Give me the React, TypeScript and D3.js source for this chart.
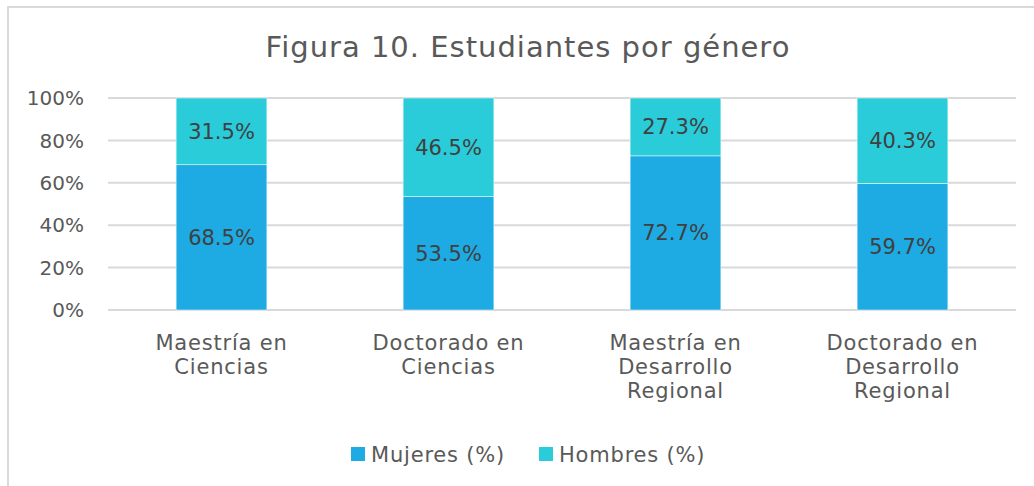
import React, { useEffect, useRef } from 'react';
import * as d3 from 'd3';

const categories = [
  ['Maestría en', 'Ciencias'],
  ['Doctorado en', 'Ciencias'],
  ['Maestría en', 'Desarrollo', 'Regional'],
  ['Doctorado en', 'Desarrollo', 'Regional'],
];
const mujeres = [68.5, 53.5, 72.7, 59.7];
const hombres = [31.5, 46.5, 27.3, 40.3];
const seriesNames = ['Mujeres (%)', 'Hombres (%)'];
const seriesColors = ['#1eaae2', '#29ccd8'];
const yTicks = [0, 20, 40, 60, 80, 100];

const FONT = '"DejaVu Sans", sans-serif';
const TEXT = '#595959';

const App = () => {
  const svgRef = useRef<SVGSVGElement>(null);

  useEffect(() => {
    const W = 1034, H = 486;
    const margin = { top: 98, right: 18, bottom: 176, left: 108 };
    const width = W - margin.left - margin.right;
    const height = H - margin.top - margin.bottom;

    const root = d3.select(svgRef.current);
    root.selectAll('*').remove();
    root.attr('width', W).attr('height', H);

    root.append('rect')
      .attr('x', 0).attr('y', 0).attr('width', W).attr('height', H)
      .attr('fill', '#fff');
    root.append('rect')
      .attr('x', 8).attr('y', 7).attr('width', W + 20).attr('height', H + 20)
      .attr('fill', 'none').attr('stroke', '#d9d9d9').attr('stroke-width', 2);

    root.append('text')
      .attr('x', 528).attr('y', 57)
      .attr('text-anchor', 'middle')
      .style('font-family', FONT).style('font-size', '29px')
      .style('letter-spacing', '1px')
      .attr('fill', TEXT)
      .text('Figura 10. Estudiantes por género');

    const svg = root.append('g').attr('transform', `translate(${margin.left},${margin.top})`);

    const idx = categories.map((_, i) => i);
    const x = d3.scaleBand<number>().domain(idx).range([0, width]).paddingInner(0.6).paddingOuter(0.3);
    const y = d3.scaleLinear().domain([0, 100]).range([height, 0]);

    svg.selectAll('.grid')
      .data(yTicks)
      .enter().append('line')
      .attr('x1', 0).attr('x2', width)
      .attr('y1', d => y(d)).attr('y2', d => y(d))
      .attr('stroke', '#d9d9d9').attr('stroke-width', 2);

    svg.selectAll('.ytick')
      .data(yTicks)
      .enter().append('text')
      .attr('x', -24).attr('y', d => y(d))
      .attr('dy', '0.36em')
      .attr('text-anchor', 'end')
      .style('font-family', FONT).style('font-size', '20px')
      .attr('fill', TEXT)
      .text(d => `${d}%`);

    const stacked = idx.map(i => [
      { s: 0, y0: 0, y1: mujeres[i], v: mujeres[i] },
      { s: 1, y0: mujeres[i], y1: mujeres[i] + hombres[i], v: hombres[i] },
    ]);

    const groups = svg.selectAll('.bar')
      .data(stacked)
      .enter().append('g')
      .attr('transform', (_, i) => `translate(${x(i)},0)`);

    groups.selectAll('rect')
      .data(d => d)
      .enter().append('rect')
      .attr('x', 0)
      .attr('width', x.bandwidth())
      .attr('y', d => y(d.y1))
      .attr('height', d => y(d.y0) - y(d.y1))
      .attr('fill', d => seriesColors[d.s])
      .attr('stroke', '#fff').attr('stroke-width', 0.5);

    groups.selectAll('text')
      .data(d => d)
      .enter().append('text')
      .attr('x', x.bandwidth() / 2)
      .attr('y', d => y((d.y0 + d.y1) / 2))
      .attr('dy', '0.36em')
      .attr('text-anchor', 'middle')
      .style('font-family', FONT).style('font-size', '21px')
      .attr('fill', '#404040')
      .text(d => `${d.v.toFixed(1)}%`);

    const catLabels = svg.selectAll('.cat')
      .data(categories)
      .enter().append('text')
      .attr('text-anchor', 'middle')
      .style('font-family', FONT).style('font-size', '21px')
      .style('letter-spacing', '0.8px')
      .attr('fill', TEXT);
    catLabels.each(function (lines, i) {
      d3.select(this).selectAll('tspan')
        .data(lines)
        .enter().append('tspan')
        .attr('x', (x(i) as number) + x.bandwidth() / 2)
        .attr('y', (_, j) => height + 40 + j * 24)
        .text(l => l);
    });

    const legend = root.append('g').attr('transform', 'translate(351,447)');
    const lx = [0, 188];
    seriesNames.forEach((name, i) => {
      legend.append('rect')
        .attr('x', lx[i]).attr('y', 0).attr('width', 14).attr('height', 14)
        .attr('fill', seriesColors[i]);
      legend.append('text')
        .attr('x', lx[i] + 20).attr('y', 7).attr('dy', '0.36em')
        .style('font-family', FONT).style('font-size', '21px')
        .style('letter-spacing', '0.8px')
        .attr('fill', TEXT)
        .text(name);
    });
  }, []);

  return <svg ref={svgRef} style={{ position: 'absolute', left: 0, top: 0 }}></svg>;
};

export default App;
